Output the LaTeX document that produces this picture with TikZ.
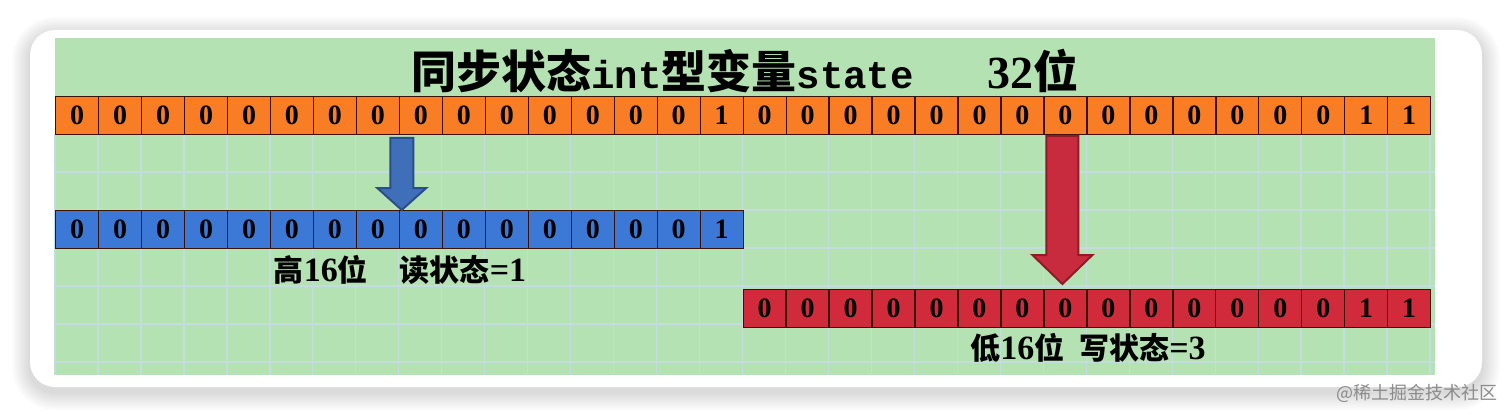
\documentclass[tikz,border=0pt]{standalone}
\usepackage{fontspec}
\setmainfont{Liberation Serif}
\setmonofont{Liberation Mono}
\newfontfamily\cjk{Noto Sans CJK SC}
\usetikzlibrary{calc}
\definecolor{grn}{HTML}{B5E2B3}
\definecolor{gridc}{HTML}{C3DCDD}
\definecolor{orng}{HTML}{F97D24}
\definecolor{blu}{HTML}{3C78D6}
\definecolor{rd}{HTML}{D12A3A}
\definecolor{edge}{HTML}{3A1208}
\definecolor{barrow}{HTML}{3F6FB8}
\definecolor{barrowd}{HTML}{2A4D8C}
\definecolor{rarrow}{HTML}{C92B3E}
\definecolor{rarrowd}{HTML}{8E1C28}
\newcommand\ckT[1]{{\cjk\bfseries\fontsize{45}{45}\selectfont #1}}
\newcommand\ckL[1]{{\cjk\bfseries\fontsize{30}{30}\selectfont #1}}
\begin{document}
\begin{tikzpicture}[x=1pt,y=-1pt,
  cell/.style={draw=edge, line width=1.3pt, minimum width=42.97pt, minimum height=38pt,
    inner sep=0pt, anchor=north west, text=black, font=\fontsize{28}{28}\selectfont\bfseries},
  lbl/.style={inner sep=0pt, text=black, font=\fontsize{34}{34}\selectfont\bfseries},
  bigarrow/.style={line width=2pt, line join=miter}]
\useasboundingbox (0,0) rectangle (1512,417);
\fill[white] (0,0) rectangle (1512,417);
% card shadow
\foreach \s in {2,4,...,18}{
  \fill[black, opacity=0.014, rounded corners={25+\s}] ({30-\s},{30-\s+5}) rectangle ({1482+\s},{387+\s+5});
}
\fill[white, rounded corners=25pt] (30,30) rectangle (1482,387);
% green panel
\fill[grn] (55,38) rectangle (1435,375);
% grid
\foreach \k in {0,...,32}{
  \draw[gridc, line width=1.3pt] ({55+\k*42.97},134) -- ({55+\k*42.97},375);
}
\foreach \yy in {172,210,248,286,324,362}{
  \draw[gridc, line width=1.3pt] (55,\yy) -- (1435,\yy);
}
% title
\node[inner sep=0pt, text=black, font=\fontsize{46}{46}\selectfont\bfseries] (title) at (745,71)
  {\ckT{同步状态}{\ttfamily\fontsize{39}{39}\selectfont int}\ckT{型变量}{\ttfamily\fontsize{39}{39}\selectfont state}\hspace{74pt}32\ckT{位}};
% 32-bit row
\foreach \b [count=\i] in {0,0,0,0,0,0,0,0,0,0,0,0,0,0,0,1,0,0,0,0,0,0,0,0,0,0,0,0,0,0,1,1}{
  \node[cell, fill=orng] (o\i) at ({55+(\i-1)*42.97},96) {\b};
}
% high 16 bits
\foreach \b [count=\i] in {0,0,0,0,0,0,0,0,0,0,0,0,0,0,0,1}{
  \node[cell, fill=blu] (b\i) at ({55+(\i-1)*42.97},210) {\b};
}
% low 16 bits
\foreach \b [count=\i] in {0,0,0,0,0,0,0,0,0,0,0,0,0,0,1,1}{
  \node[cell, fill=rd] (r\i) at ({742.5+(\i-1)*42.97},289) {\b};
}
% blue arrow
\coordinate (btip) at ($(b9.north west)+(3,0)$);
\draw[bigarrow, fill=barrow, draw=barrowd]
  ($(btip)+(-11.5,-72)$) -- ($(btip)+(11.5,-72)$) -- ($(btip)+(11.5,-22)$) -- ($(btip)+(24.5,-22)$)
  -- (btip) -- ($(btip)+(-24.5,-22)$) -- ($(btip)+(-11.5,-22)$) -- cycle;
% red arrow
\coordinate (rtip) at ($(r8.north)+(-3,-5)$);
\draw[bigarrow, fill=rarrow, draw=rarrowd]
  ($(rtip)+(-16,-148)$) -- ($(rtip)+(16,-148)$) -- ($(rtip)+(16,-29)$) -- ($(rtip)+(30,-29)$)
  -- (rtip) -- ($(rtip)+(-30,-29)$) -- ($(rtip)+(-16,-29)$) -- cycle;
% labels
\node[lbl] (hi) at (400,270) {\ckL{高}16\ckL{位}\hspace{32pt}\ckL{读状态}=1};
\node[lbl] (lo) at (1088,348) {\ckL{低}16\ckL{位}\hspace{15pt}\ckL{写状态}=3};
% watermark
\node[inner sep=0pt, text=black!45, font=\cjk\fontsize{18}{18}\selectfont] (wm) at (1417,393) {@稀土掘金技术社区};
\end{tikzpicture}
\end{document}
